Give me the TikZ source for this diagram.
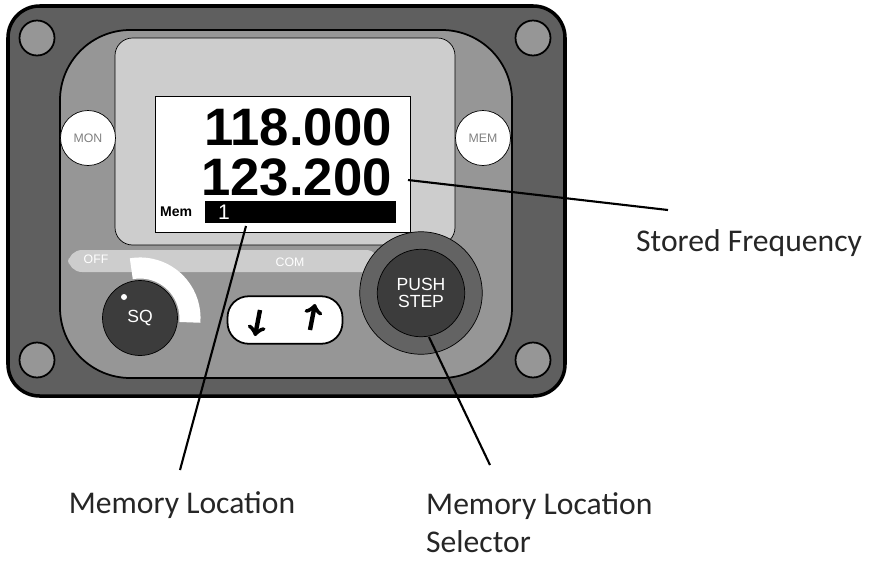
\documentclass[tikz,border=0pt]{standalone}
\usepackage{fontspec}
\setmainfont{Carlito}
\newfontfamily\lcdfont{Liberation Sans}
\usetikzlibrary{positioning,calc}
\definecolor{panelgray}{RGB}{95,95,95}
\definecolor{bezelgray}{RGB}{150,150,150}
\definecolor{lightgray}{RGB}{205,205,205}
\definecolor{knobdark}{RGB}{60,60,60}
\begin{document}
\begin{tikzpicture}[x=0.02cm,y=-0.02cm]
    \tikzstyle{screw} = [circle, draw=black, line width=1pt, fill=bezelgray, minimum size=0.7cm]
    \tikzstyle{softkey} = [circle, draw=black, fill=white, minimum size=1.1cm, font=\lcdfont\scriptsize, text=gray]
    \tikzstyle{label} = [font=\fontsize{18}{22}\selectfont, text=black!85, align=left]
    \tikzstyle{leader} = [line width=1.2pt]
    \useasboundingbox (0,0) rectangle (876,562);
    
    % Panel body
    \draw [rounded corners=18pt, line width=2pt, fill=panelgray] (8,6) rectangle (565,396);
    \draw [rounded corners=40pt, line width=1pt, fill=bezelgray] (60,30) rectangle (512,378);
    \draw [rounded corners=10pt, fill=lightgray] (115,38) rectangle (455,245);
    \fill [white] (155,96) rectangle (410,232);
    \draw (155,96) rectangle (410,232);
    
    % Screws
    \node [screw] (s1) at (37,38) {};
    \node [screw] (s2) at (533,38) {};
    \node [screw] (s3) at (37,360) {};
    \node [screw] (s4) at (533,360) {};
    
    % Display
    \node [anchor=east, font=\lcdfont\bfseries\fontsize{30}{30}\selectfont] (freq1) at (398,127) {118.000};
    \node [anchor=east, font=\lcdfont\bfseries\fontsize{30}{30}\selectfont] (freq2) at (398,177) {123.200};
    \node [anchor=west, font=\lcdfont\bfseries\footnotesize, inner sep=1pt] (mem) at (158,212) {Mem};
    \fill [black] (205,201) rectangle (396,223);
    \node [anchor=west, text=white, font=\lcdfont\large] (slot) at (212,212) {1};
    
    % Soft keys
    \node [softkey] (mon) at (88,138) {MON};
    \node [softkey] (memkey) at (483,138) {MEM};
    
    % Lower strip
    \fill [lightgray, rounded corners=8pt] (68,250) rectangle (380,272);
    \node [font=\lcdfont\scriptsize, text=white] (off) at (96,259) {OFF};
    \node [font=\lcdfont\scriptsize, text=white] (com) at (290,262) {COM};
    \draw [white, line width=12pt] ($(140,318)+(-100:50)$) arc (-100:5:50);
    \node [circle, draw=black, fill=knobdark, minimum size=1.5cm, text=white, font=\lcdfont] (sq) at (140,318) {SQ};
    \fill [white] (124,297) circle (3);
    \node [draw=black, line width=1pt, fill=white, rounded corners=12pt, minimum width=2.3cm, minimum height=0.95cm] (updown) at (285,320) {};
    \draw [->, line width=2.5pt] ($(updown.center)+(-25,-10)$) -- ++(-5,26);
    \draw [->, line width=2.5pt] ($(updown.center)+(25,10)$) -- ++(5,-26);
    
    % Push step knob
    \node [circle, draw=black, fill=knobdark!80, minimum size=2.45cm] (outer) at (421,293) {};
    \node [circle, draw=black, fill=knobdark, minimum size=1.75cm, text=white, font=\lcdfont, align=center, inner sep=0pt] (step) at (421,293) {PUSH\\[-2pt]STEP};
    
    % Labels
    \node [label, anchor=west] (stored) at (630,243) {Stored Frequency};
    \node [label] (memloc) at (182,505) {Memory Location};
    \node [label, anchor=north west] (selector) at (420,486) {Memory Location\\Selector};
    \coordinate (c1) at (668,210);
    \coordinate (c2) at (180,470);
    \coordinate (c3) at (490,465);
    
    % Leaders
    \draw [leader] (408,180) -- (c1);
    \draw [leader] (246,226) -- (c2);
    \draw [leader] (step.south) ++(8,0) -- (c3);
\end{tikzpicture}
\end{document}
